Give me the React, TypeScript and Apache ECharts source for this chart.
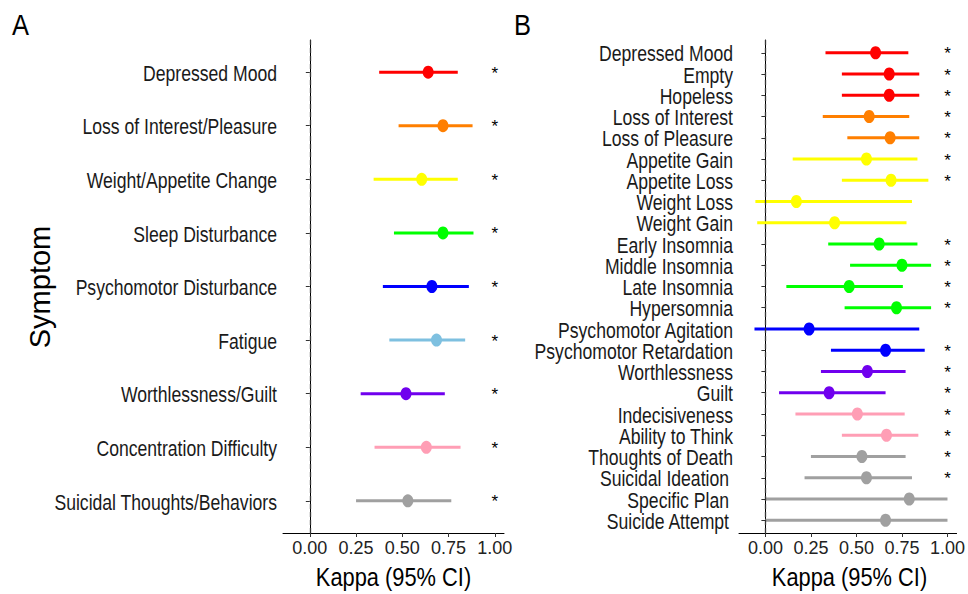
import React, { useEffect, useRef } from "react";
import * as echarts from "echarts";

const symptomsA = [
  "Depressed Mood",
  "Loss of Interest/Pleasure",
  "Weight/Appetite Change",
  "Sleep Disturbance",
  "Psychomotor Disturbance",
  "Fatigue",
  "Worthlessness/Guilt",
  "Concentration Difficulty",
  "Suicidal Thoughts/Behaviors",
];
const kappaA = [0.64, 0.72, 0.605, 0.72, 0.66, 0.685, 0.52, 0.63, 0.53];
const lowerA = [0.375, 0.48, 0.345, 0.455, 0.395, 0.43, 0.275, 0.35, 0.25];
const upperA = [0.8, 0.88, 0.8, 0.885, 0.86, 0.84, 0.73, 0.815, 0.765];
const sigA = [true, true, true, true, true, true, true, true, true];
const colorsA = ["#FF0000", "#FF7F00", "#FFFF00", "#00FF00", "#0000FF", "#7EC0E0", "#7000EE", "#FF9EB5", "#A0A0A0"];

const symptomsB = [
  "Depressed Mood",
  "Empty",
  "Hopeless",
  "Loss of Interest",
  "Loss of Pleasure",
  "Appetite Gain",
  "Appetite Loss",
  "Weight Loss",
  "Weight Gain",
  "Early Insomnia",
  "Middle Insomnia",
  "Late Insomnia",
  "Hypersomnia",
  "Psychomotor Agitation",
  "Psychomotor Retardation",
  "Worthlessness",
  "Guilt",
  "Indecisiveness",
  "Ability to Think",
  "Thoughts of Death",
  "Suicidal Ideation",
  "Specific Plan",
  "Suicide Attempt",
];
const kappaB = [0.605, 0.68, 0.68, 0.57, 0.685, 0.555, 0.69, 0.17, 0.38, 0.625, 0.75, 0.46, 0.72, 0.24, 0.66, 0.56, 0.35, 0.505, 0.665, 0.53, 0.555, 0.79, 0.66];
const lowerB = [0.33, 0.42, 0.42, 0.315, 0.45, 0.15, 0.42, -0.055, -0.045, 0.345, 0.465, 0.115, 0.435, -0.06, 0.36, 0.305, 0.075, 0.165, 0.42, 0.25, 0.215, 0, 0];
const upperB = [0.785, 0.845, 0.845, 0.79, 0.845, 0.835, 0.895, 0.805, 0.775, 0.835, 0.91, 0.755, 0.91, 0.845, 0.875, 0.77, 0.66, 0.765, 0.84, 0.77, 0.805, 1.0, 1.0];
const sigB = [true, true, true, true, true, true, true, false, false, true, true, true, true, false, true, true, true, true, true, true, true, false, false];
const colorsB = [
  "#FF0000", "#FF0000", "#FF0000",
  "#FF7F00", "#FF7F00",
  "#FFFF00", "#FFFF00", "#FFFF00", "#FFFF00",
  "#00FF00", "#00FF00", "#00FF00", "#00FF00",
  "#0000FF", "#0000FF",
  "#7000EE", "#7000EE",
  "#FF9EB5", "#FF9EB5",
  "#A0A0A0", "#A0A0A0", "#A0A0A0", "#A0A0A0",
];
const shiftedB = ["Suicidal Ideation", "Specific Plan", "Suicide Attempt"];

const xTicks = [0, 0.25, 0.5, 0.75, 1.0];
const starX = 1.0;
const refLineX = 0;
const xMin = -0.145;
const xMax = 1.05;

const REG = "'Liberation Sans', Arial, sans-serif";
const NARROW_SCALE = 0.8;

function panelSeries(
  idx: number,
  cats: string[],
  kappa: number[],
  lower: number[],
  upper: number[],
  sig: boolean[],
  colors: string[],
  shifted: string[]
) {
  const bars = {
    type: "custom",
    xAxisIndex: idx,
    yAxisIndex: idx,
    silent: true,
    data: lower.map((l, i) => [l, upper[i], i + 1]),
    encode: { x: [0, 1], y: 2 },
    renderItem: (params: any, api: any) => {
      const p1 = api.coord([api.value(0), api.value(2)]);
      const p2 = api.coord([api.value(1), api.value(2)]);
      return {
        type: "line",
        shape: { x1: p1[0], y1: p1[1], x2: p2[0], y2: p2[1] },
        style: { stroke: colors[params.dataIndex], lineWidth: 3 },
      };
    },
    markLine: {
      silent: true,
      symbol: ["none", "none"],
      label: { show: false },
      lineStyle: { type: [5, 3], color: "#333", width: 1.3 },
      data: [{ xAxis: refLineX }],
    },
    z: 2,
  };
  const points = {
    type: "scatter",
    xAxisIndex: idx,
    yAxisIndex: idx,
    symbol: "circle",
    symbolSize: [11, 13],
    data: kappa.map((k, i) => ({ value: [k, i + 1], itemStyle: { color: colors[i], opacity: 1 } })),
    z: 3,
  };
  const starRows = sig.map((s, i) => (s ? i + 1 : -1)).filter((r) => r > 0);
  const stars = {
    type: "custom",
    xAxisIndex: idx,
    yAxisIndex: idx,
    silent: true,
    clip: false,
    data: starRows.map((r) => [starX, r]),
    encode: { x: 0, y: 1 },
    renderItem: (params: any, api: any) => {
      const p = api.coord([api.value(0), api.value(1)]);
      return {
        type: "text",
        x: p[0],
        y: p[1] + 1,
        style: { text: "*", align: "center", verticalAlign: "middle", fontSize: 17, fill: "#000", fontFamily: REG },
      };
    },
    z: 4,
  };
  const labels = {
    type: "custom",
    xAxisIndex: idx,
    yAxisIndex: idx,
    silent: true,
    clip: false,
    data: cats.map((_, i) => [xMin, i + 1]),
    encode: { x: 0, y: 1 },
    renderItem: (params: any, api: any) => {
      const p = api.coord([api.value(0), api.value(1)]);
      const text = cats[params.dataIndex];
      const shift = shifted.indexOf(text) >= 0 ? 4 : 0;
      return {
        type: "text",
        x: p[0] - 6 - shift,
        y: p[1] + 1,
        scaleX: NARROW_SCALE,
        style: { text, align: "right", verticalAlign: "middle", fontSize: 22, fill: "#1a1a1a", fontFamily: REG },
      };
    },
    z: 4,
  };
  return [bars, points, stars, labels];
}

function xAxisCfg(idx: number) {
  return {
    type: "value",
    gridIndex: idx,
    min: xMin,
    max: xMax,
    axisLine: { show: true, lineStyle: { color: "#000", width: 1 } },
    axisTick: { show: true, customValues: xTicks, length: 4, lineStyle: { color: "#333" } },
    axisLabel: {
      customValues: xTicks,
      formatter: (v: number) => v.toFixed(2),
      fontSize: 18,
      color: "#222",
      fontFamily: REG,
      margin: 6,
    },
    splitLine: { show: false },
  };
}

function yAxisCfg(idx: number, cats: string[]) {
  const vals = cats.map((_, i) => i + 1);
  return {
    type: "value",
    gridIndex: idx,
    inverse: true,
    min: 0.4,
    max: cats.length + 0.6,
    axisLine: { show: true, lineStyle: { color: "#000", width: 1 } },
    axisTick: { show: true, customValues: vals, length: 4, lineStyle: { color: "#333" } },
    axisLabel: { show: false },
    splitLine: { show: false },
  };
}

export default function App() {
  const ref = useRef<HTMLDivElement>(null);
  useEffect(() => {
    document.body.style.margin = "0";
    if (!ref.current) return;
    const chart = echarts.init(ref.current, null, { renderer: "svg" });
    chart.setOption({
      animation: false,
      backgroundColor: "#fff",
      grid: [
        { left: 283, top: 40, width: 221, height: 493, containLabel: false },
        { left: 739, top: 40, width: 221, height: 493, containLabel: false },
      ],
      xAxis: [xAxisCfg(0), xAxisCfg(1)],
      yAxis: [yAxisCfg(0, symptomsA), yAxisCfg(1, symptomsB)],
      graphic: [
        { type: "text", x: 12, y: 10, scaleX: 0.85, style: { text: "A", fontSize: 30, fill: "#000", fontFamily: REG } },
        { type: "text", x: 514, y: 10, scaleX: 0.85, style: { text: "B", fontSize: 30, fill: "#000", fontFamily: REG } },
        {
          type: "text",
          x: 393.5,
          y: 577,
          scaleX: 0.84,
          style: { text: "Kappa (95% CI)", fontSize: 26, fill: "#000", fontFamily: REG, align: "center", verticalAlign: "middle" },
        },
        {
          type: "text",
          x: 849.5,
          y: 577,
          scaleX: 0.84,
          style: { text: "Kappa (95% CI)", fontSize: 26, fill: "#000", fontFamily: REG, align: "center", verticalAlign: "middle" },
        },
        {
          type: "text",
          x: 40,
          y: 287,
          rotation: Math.PI / 2,
          style: { text: "Symptom", fontSize: 29, fill: "#000", fontFamily: REG, align: "center", verticalAlign: "middle" },
        },
      ],
      series: [
        ...panelSeries(0, symptomsA, kappaA, lowerA, upperA, sigA, colorsA, []),
        ...panelSeries(1, symptomsB, kappaB, lowerB, upperB, sigB, colorsB, shiftedB),
      ],
    });
    return () => chart.dispose();
  }, []);
  return <div ref={ref} style={{ width: 968, height: 594 }} />;
}
